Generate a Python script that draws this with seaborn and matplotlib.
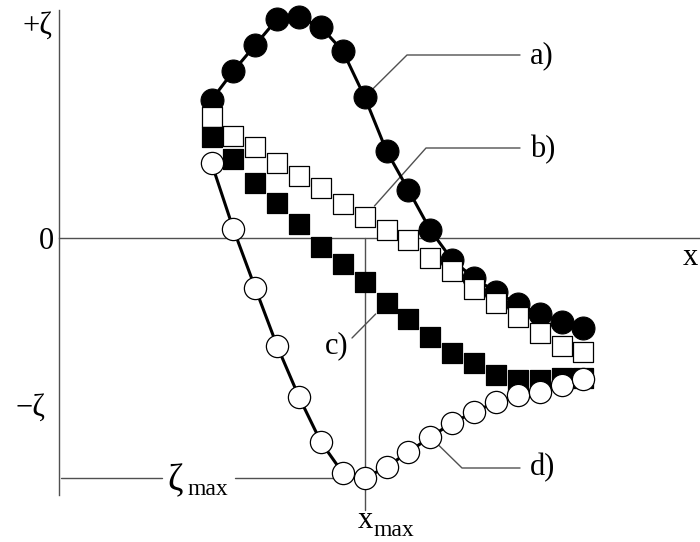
import numpy as np
import matplotlib
matplotlib.use("Agg")
import matplotlib.pyplot as plt
import seaborn as sns

# Stations along the x axis
station = list(range(18))

# Displacement ζ of the four profiles at every station
curve_a = [1.38, 1.67, 1.93, 2.19, 2.21, 2.11, 1.87, 1.41, 0.87, 0.48,
           0.08, -0.22, -0.40, -0.54, -0.66, -0.76, -0.84, -0.90]
curve_b = [1.21, 1.02, 0.91, 0.75, 0.62, 0.50, 0.34, 0.21, 0.08, -0.02,
           -0.20, -0.33, -0.51, -0.65, -0.79, -0.95, -1.08, -1.14]
curve_c = [1.01, 0.79, 0.55, 0.35, 0.14, -0.09, -0.26, -0.44, -0.65, -0.81,
           -0.99, -1.15, -1.25, -1.37, -1.42, -1.42, -1.40, -1.40]
curve_d = [0.75, 0.09, -0.50, -1.08, -1.59, -2.04, -2.35, -2.40, -2.29, -2.14,
           -1.99, -1.85, -1.74, -1.64, -1.57, -1.54, -1.47, -1.41]

axis_top, axis_zero, axis_bottom, axis_x = "+ζ", "0", "−ζ", "x"
curve_labels = ["a)", "b)", "c)", "d)"]

sns.set_style("white")
plt.rcParams["font.family"] = ["Liberation Serif", "DejaVu Serif"]

W, H = 700, 542
fig = plt.figure(figsize=(W / 100, H / 100), dpi=100)
ax = fig.add_axes([0, 0, 1, 1])

# pixel layout of the drawing: station 0 at x0, one station every dx pixels,
# zero line at y0, dy pixels per unit of ζ
x0, dx, y0, dy = 211.5, 21.88, 238.0, 100.0
ax.set_xlim(-x0 / dx, (W - x0) / dx)
ax.set_ylim((y0 - H) / dy, y0 / dy)


def px_x(p):
    return (p - x0) / dx


def px_y(p):
    return (y0 - p) / dy


def to_px(i, v):
    return x0 + dx * i, y0 - dy * v


INK = "black"
GREY = "#505050"

# profiles
sns.lineplot(x=station, y=curve_a, ax=ax, color=INK, lw=2.2, marker="o",
             markersize=16.5, markerfacecolor=INK, markeredgecolor=INK,
             markeredgewidth=0.8, zorder=3)
sns.scatterplot(x=station, y=curve_b, ax=ax, marker="s", s=15.0 ** 2,
                color="white", edgecolor=INK, linewidth=0.9, zorder=4)
sns.scatterplot(x=station, y=curve_c, ax=ax, marker="s", s=15.0 ** 2,
                color=INK, edgecolor=INK, linewidth=0.9, zorder=5)
sns.lineplot(x=station, y=curve_d, ax=ax, color=INK, lw=2.2, marker="o",
             markersize=16.0, markerfacecolor="white", markeredgecolor=INK,
             markeredgewidth=0.9, zorder=6)

# axes drawn as crossing lines
for side in ("top", "right"):
    ax.spines[side].set_visible(False)
ax.spines["left"].set_position(("data", px_x(59.5)))
ax.spines["left"].set_bounds(px_y(495), px_y(10))
ax.spines["bottom"].set_position(("data", 0))
ax.spines["bottom"].set_bounds(px_x(59.5), px_x(W))
for side in ("left", "bottom"):
    ax.spines[side].set_color(GREY)
    ax.spines[side].set_linewidth(1.0)
ax.set_xticks([])
ax.set_yticks([])
ax.set_xlabel("")
ax.set_ylabel("")

# position of the largest negative displacement
k_min = int(np.argmin(curve_d))
x_max = station[k_min]
zeta_max = curve_d[k_min]
ax.plot([x_max, x_max], [0, px_y(510)], color=GREY, lw=1.0, zorder=2)
ax.plot([px_x(61), px_x(162)], [zeta_max, zeta_max], color=GREY, lw=1.0, zorder=2)
ax.plot([px_x(235), x_max], [zeta_max, zeta_max], color=GREY, lw=1.0, zorder=2)

FS = 22
SUB = 17


def label(xp, yp, s, ha="left", size=FS):
    ax.text(px_x(xp), px_y(yp), s, ha=ha, va="baseline", fontsize=size, color=INK)


label(52, 34, axis_top, ha="right")
label(54, 249, axis_zero, ha="right")
label(45, 416, axis_bottom, ha="right")
label(683, 265, axis_x)
label(167, 490, "ζ", size=27)
label(187, 495, "max", size=SUB)
label(358, 528, "x")
label(374, 536, "max", size=SUB)


def leader(curve, i, knee, end, half, square=False):
    cx, cy = to_px(i, curve[i])
    vx, vy = knee[0] - cx, knee[1] - cy
    n = np.hypot(vx, vy)
    ux, uy = vx / n, vy / n
    r = half / max(abs(ux), abs(uy)) if square else half
    sx, sy = cx + r * ux, cy + r * uy
    pts = [(sx, sy), knee] + ([end] if end is not None else [])
    ax.plot([px_x(p[0]) for p in pts], [px_y(p[1]) for p in pts],
            color=GREY, lw=1.0, zorder=2.5)


leader(curve_a, 7, (407, 55), (520, 55), 12)
leader(curve_b, 7, (426, 148), (520, 148), 11, square=True)
leader(curve_c, 8, (352, 338), None, 11, square=True)
leader(curve_d, 10, (462, 468), (520, 468), 12)

label(530, 63, curve_labels[0])
label(530, 157, curve_labels[1])
label(325, 353, curve_labels[2])
label(530, 475, curve_labels[3])

fig.savefig("out.png", dpi=100, facecolor="white")
